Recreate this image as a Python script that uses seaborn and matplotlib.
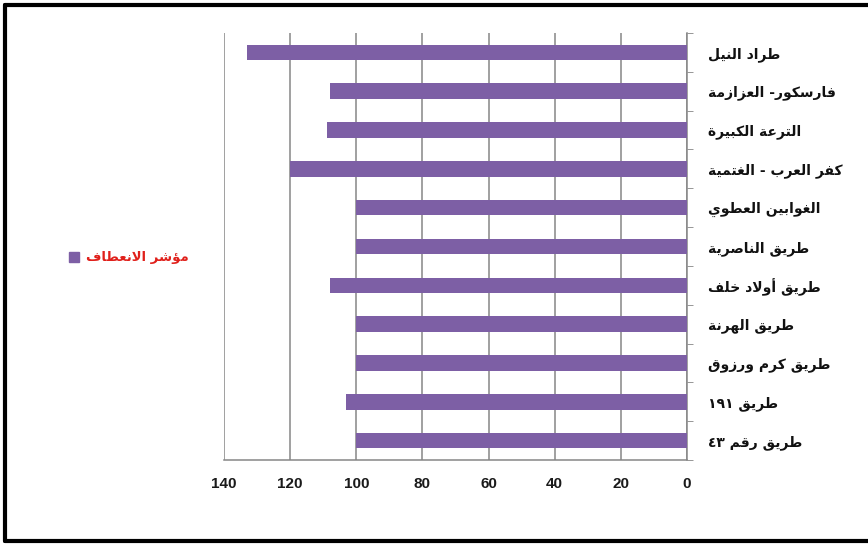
import matplotlib
matplotlib.use("Agg")
import matplotlib.pyplot as plt
import seaborn as sns
import pandas as pd
from matplotlib.lines import Line2D

# ---- data ----
roads = [
    "طراد النيل",
    "فارسكور- العزازمة",
    "الترعة الكبيرة",
    "كفر العرب - الغتمية",
    "الغوابين العطوي",
    "طريق الناصرية",
    "طريق أولاد خلف",
    "طريق الهرنة",
    "طريق كرم ورزوق",
    "طريق ١٩١",
    "طريق رقم ٤٣",
]
curvature_index = [133, 108, 109, 120, 100, 100, 108, 100, 100, 103, 100]
series_name = "مؤشر الانعطاف"
x_ticks = [0, 20, 40, 60, 80, 100, 120, 140]

# ---- minimal Arabic shaping (presentation forms + visual order) ----
FORMS = {  # isolated, final, initial, medial
    "ا": ("\uFE8D", "\uFE8E", None, None),
    "أ": ("\uFE83", "\uFE84", None, None),
    "ب": ("\uFE8F", "\uFE90", "\uFE91", "\uFE92"),
    "ة": ("\uFE93", "\uFE94", None, None),
    "ت": ("\uFE95", "\uFE96", "\uFE97", "\uFE98"),
    "خ": ("\uFEA5", "\uFEA6", "\uFEA7", "\uFEA8"),
    "د": ("\uFEA9", "\uFEAA", None, None),
    "ر": ("\uFEAD", "\uFEAE", None, None),
    "ز": ("\uFEAF", "\uFEB0", None, None),
    "س": ("\uFEB1", "\uFEB2", "\uFEB3", "\uFEB4"),
    "ش": ("\uFEB5", "\uFEB6", "\uFEB7", "\uFEB8"),
    "ص": ("\uFEB9", "\uFEBA", "\uFEBB", "\uFEBC"),
    "ط": ("\uFEC1", "\uFEC2", "\uFEC3", "\uFEC4"),
    "ع": ("\uFEC9", "\uFECA", "\uFECB", "\uFECC"),
    "غ": ("\uFECD", "\uFECE", "\uFECF", "\uFED0"),
    "ف": ("\uFED1", "\uFED2", "\uFED3", "\uFED4"),
    "ق": ("\uFED5", "\uFED6", "\uFED7", "\uFED8"),
    "ك": ("\uFED9", "\uFEDA", "\uFEDB", "\uFEDC"),
    "ل": ("\uFEDD", "\uFEDE", "\uFEDF", "\uFEE0"),
    "م": ("\uFEE1", "\uFEE2", "\uFEE3", "\uFEE4"),
    "ن": ("\uFEE5", "\uFEE6", "\uFEE7", "\uFEE8"),
    "ه": ("\uFEE9", "\uFEEA", "\uFEEB", "\uFEEC"),
    "و": ("\uFEED", "\uFEEE", None, None),
    "ؤ": ("\uFE85", "\uFE86", None, None),
    "ي": ("\uFEF1", "\uFEF2", "\uFEF3", "\uFEF4"),
    "لا": ("\uFEFB", "\uFEFC", None, None),
    "لأ": ("\uFEF7", "\uFEF8", None, None),
}


def shape_arabic(text):
    # merge lam-alef pairs into single units
    units = []
    i = 0
    while i < len(text):
        if text[i] == "ل" and i + 1 < len(text) and text[i + 1] in "اأ":
            units.append(text[i:i + 2])
            i += 2
        else:
            units.append(text[i])
            i += 1

    def joins_left(u):  # can connect to the following letter
        return u in FORMS and FORMS[u][2] is not None

    shaped = []
    for k, u in enumerate(units):
        if u not in FORMS:
            shaped.append(u)
            continue
        prev_ok = k > 0 and joins_left(units[k - 1])
        next_ok = joins_left(u) and k + 1 < len(units) and units[k + 1] in FORMS
        iso, fin, ini, med = FORMS[u]
        if prev_ok and next_ok:
            shaped.append(med)
        elif prev_ok:
            shaped.append(fin)
        elif next_ok:
            shaped.append(ini)
        else:
            shaped.append(iso)

    # visual order: reverse, keeping digit runs left-to-right
    out = []
    run = []
    for ch in reversed(shaped):
        if ch.isdigit():
            run.insert(0, ch)
        else:
            if run:
                out.extend(run)
                run = []
            out.append(ch)
    out.extend(run)
    return "".join(out)


df = pd.DataFrame({"road": [shape_arabic(r) for r in roads],
                   "value": curvature_index})

# ---- figure ----
sns.set_style("white")
plt.rcParams["font.family"] = ["DejaVu Sans"]

fig = plt.figure(figsize=(8.68, 5.44), dpi=100)
ax = fig.add_axes([224 / 868, 1 - 460 / 544, (687 - 224) / 868, (460 - 33) / 544])

bar_color = "#7D5FA5"
sns.barplot(data=df, x="value", y="road", color=bar_color, width=0.4,
            orient="h", ax=ax, zorder=3, saturation=1, linewidth=0)

ax.set_xlim(140, 0)
ax.set_ylim(len(roads) - 0.5, -0.5)
ax.set_xticks(x_ticks)
ax.set_xticklabels([str(t) for t in x_ticks], fontsize=11,
                   fontweight="bold", color="#1a1a1a",
                   family=["Liberation Sans", "DejaVu Sans"])
ax.xaxis.grid(True, color="#868686", linewidth=1.1, zorder=0)
ax.yaxis.grid(False)
ax.set_xlabel("")
ax.set_ylabel("")

# category labels on the right side
ax.yaxis.tick_right()
ax.tick_params(axis="y", which="major", length=0, pad=15, labelsize=10)
for lab in ax.get_yticklabels():
    lab.set_fontweight("bold")
    lab.set_color("#111111")
ax.set_yticks([k - 0.5 for k in range(len(roads) + 1)], minor=True)
ax.tick_params(axis="y", which="minor", length=4, color="#868686",
               right=True, left=False, direction="out")
ax.tick_params(axis="x", which="major", length=4, color="#868686",
               direction="out", pad=8)

for side in ["left", "top"]:
    ax.spines[side].set_visible(False)
for side in ["right", "bottom"]:
    ax.spines[side].set_visible(True)
    ax.spines[side].set_color("#868686")
    ax.spines[side].set_linewidth(1.1)

# legend on the left
handle = Line2D([], [], marker="s", linestyle="none", markersize=7,
                markerfacecolor=bar_color, markeredgecolor=bar_color)
fig.legend([handle], [shape_arabic(series_name)], loc="center",
           bbox_to_anchor=(127 / 868, 1 - 258 / 544), frameon=False,
           handletextpad=0.3, handlelength=1.2,
           prop={"weight": "bold", "size": 9.5},
           labelcolor="#E0201B")

# outer frame
frame_kw = dict(color="black", linewidth=3, transform=fig.transFigure)
fig.add_artist(Line2D([5 / 868, 5 / 868], [1 - 5 / 544, 1 - 541 / 544], **frame_kw))
fig.add_artist(Line2D([5 / 868, 1.0], [1 - 5 / 544, 1 - 5 / 544], **frame_kw))
fig.add_artist(Line2D([5 / 868, 1.0], [1 - 541 / 544, 1 - 541 / 544], **frame_kw))

fig.savefig("out.png", dpi=100, facecolor="white")
